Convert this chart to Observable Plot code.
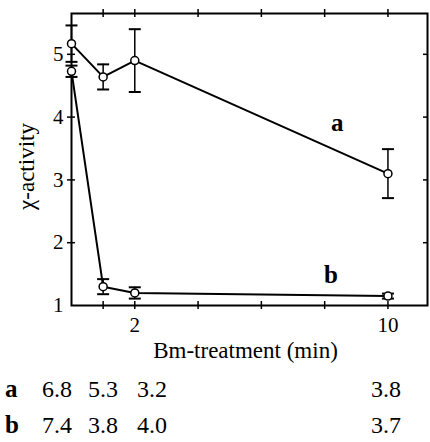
<!DOCTYPE html>
<html><head><meta charset="utf-8">
<script src="https://cdn.jsdelivr.net/npm/d3@7"></script>
<script src="https://cdn.jsdelivr.net/npm/@observablehq/plot@0.6"></script>
<style>
body{margin:0;background:#fff;}
#wrap{position:relative;width:430px;height:442px;font-family:'Liberation Serif','Times New Roman',serif;}
#wrap svg{display:block;}
</style></head><body><div id="wrap"></div>
<script>
// ---- data ----
const times = [0, 1, 2, 10];
const seriesA = [5.17, 4.64, 4.9, 3.1];
const errA = [0.29, 0.2, 0.5, 0.39];
const seriesB = [4.73, 1.3, 1.2, 1.15];
const errB = [0.09, 0.12, 0.09, 0.04];
const xTickValues = [1, 2, 4, 6, 8, 10];
const xTickLabels = [2, 10];
const yTickValues = [2, 3, 4, 5];
const yTickLabels = [1, 2, 3, 4, 5];
const seriesNames = ["a", "b"];
const seriesLabelX = [8.4, 8.2];
const seriesLabelY = [3.9, 1.48];
const tableA = ["6.8", "5.3", "3.2", "3.8"];
const tableB = ["7.4", "3.8", "4.0", "3.7"];
const xTitle = "Bm-treatment (min)";
const yTitle = "χ-activity";

// ---- layout ----
const FONT = "Liberation Serif";
const W = 430, H = 370;
const mTop = 13, mLeft = 71, mRight = 3, mBottom = 65;
const innerH = H - mTop - mBottom, innerW = W - mLeft - mRight;
const tableColumnCenters = [57, 103, 152, 386];
const tableBaselines = [27, 63];

const rows = [];
[["a", seriesA, errA], ["b", seriesB, errB]].forEach(([s, ys, es]) => {
  times.forEach((t, i) => rows.push({series: s, x: t, y: ys[i], lo: ys[i] - es[i], hi: ys[i] + es[i]}));
});
const labels = seriesNames.map((n, i) => ({name: n, x: seriesLabelX[i], y: seriesLabelY[i]}));

const capSymbol = {
  draw(ctx, size) {
    const r = Math.sqrt(size / Math.PI);
    ctx.moveTo(-r, 0); ctx.lineTo(r, 0);
  }
};

const chart = Plot.plot({
  width: W, height: H,
  marginTop: mTop, marginLeft: mLeft, marginRight: mRight, marginBottom: mBottom,
  style: {background: "white", overflow: "visible"},
  x: {domain: [0, 11.25]},
  y: {domain: [1, 5.65]},
  marks: [
    Plot.frame({stroke: "black", strokeWidth: 2}),
    Plot.tickX(xTickValues, {x: d => d, insetTop: innerH - 4, insetBottom: -4, stroke: "black", strokeWidth: 1.5}),
    Plot.tickX(xTickValues, {x: d => d, insetTop: -4, insetBottom: innerH - 4, stroke: "black", strokeWidth: 1.5}),
    Plot.tickY(yTickValues, {y: d => d, insetLeft: -4, insetRight: innerW - 4, stroke: "black", strokeWidth: 1.5}),
    Plot.tickY(yTickValues, {y: d => d, insetLeft: innerW - 4, insetRight: 0, stroke: "black", strokeWidth: 1.5}),
    Plot.axisX({ticks: xTickLabels, tickSize: 0, tickPadding: 12, tickFormat: d => String(d), label: null, fontSize: 21, fontFamily: FONT, fill: "black"}),
    Plot.axisY({ticks: yTickLabels, tickSize: 0, tickPadding: 8, tickFormat: d => String(d), label: null, fontSize: 21, fontFamily: FONT, fill: "black"}),
    Plot.text([xTitle], {frameAnchor: "bottom", lineAnchor: "middle", textAnchor: "middle", dx: -4, dy: 45, fontSize: 23, fontFamily: FONT, fill: "black"}),
    Plot.text([yTitle], {frameAnchor: "left", rotate: -90, textAnchor: "middle", lineAnchor: "middle", dx: -45, dy: 7, fontSize: 23, fontFamily: FONT, fill: "black"}),
    Plot.line(rows, {x: "x", y: "y", z: "series", stroke: "black", strokeWidth: 2}),
    Plot.ruleX(rows, {x: "x", y1: "lo", y2: "hi", stroke: "black", strokeWidth: 1.5}),
    Plot.dot(rows, {x: "x", y: "lo", symbol: capSymbol, r: 6, stroke: "black", strokeWidth: 2, fill: "none"}),
    Plot.dot(rows, {x: "x", y: "hi", symbol: capSymbol, r: 6, stroke: "black", strokeWidth: 2, fill: "none"}),
    Plot.dot(rows, {x: "x", y: "y", r: 4, fill: "white", stroke: "black", strokeWidth: 1.5}),
    Plot.text(labels, {x: "x", y: "y", text: "name", fontWeight: "bold", fontSize: 25, fontFamily: FONT, fill: "black"})
  ]
});
d3.select(chart).selectAll("text").style("font-family", "'Liberation Serif', 'Times New Roman', serif");
const wrap = document.getElementById("wrap");
wrap.appendChild(chart);

// ---- table below the chart ----
const tsvg = d3.select(wrap).append("svg").attr("width", W).attr("height", 442 - H)
  .attr("font-family", FONT);
[[seriesNames[0], tableA], [seriesNames[1], tableB]].forEach(([name, vals], r) => {
  tsvg.append("text").attr("x", 5).attr("y", tableBaselines[r]).attr("font-size", 25)
    .attr("font-weight", "bold").text(name);
  vals.forEach((v, c) => {
    tsvg.append("text").attr("x", tableColumnCenters[c]).attr("y", tableBaselines[r])
      .attr("text-anchor", "middle").attr("font-size", 24).text(v);
  });
});
</script></body></html>
